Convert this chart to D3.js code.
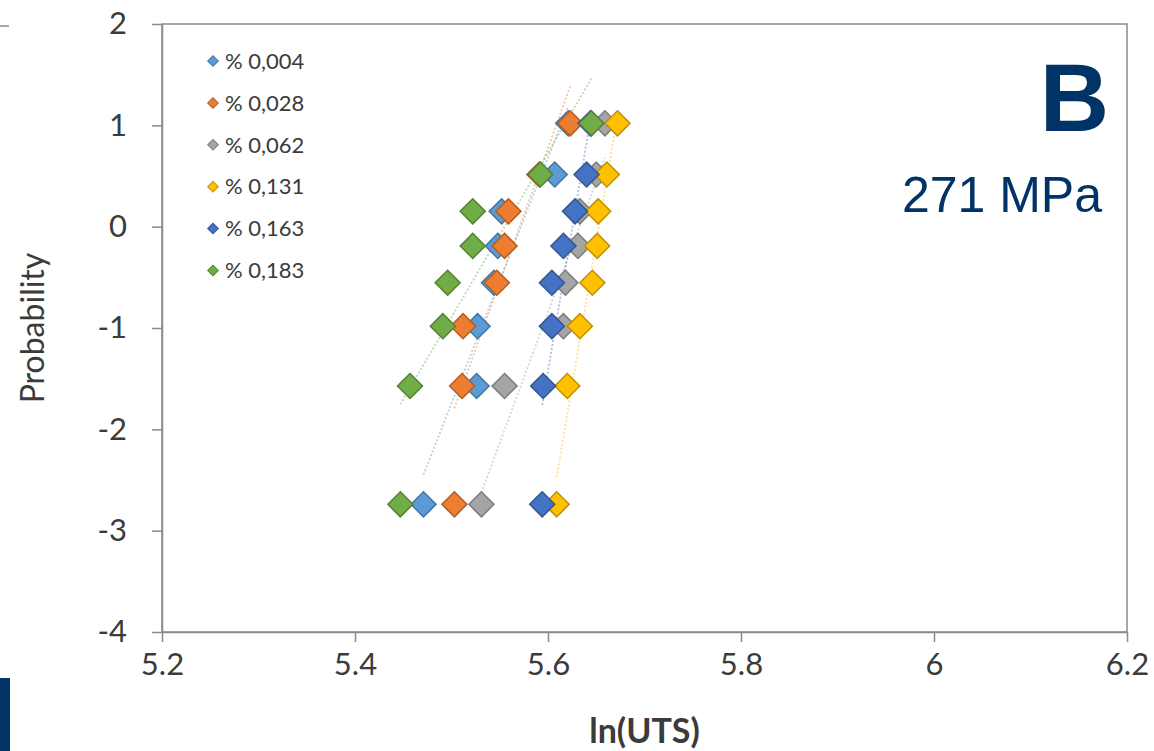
<!DOCTYPE html>
<html>
<head>
<meta charset="utf-8">
<script src="https://cdn.jsdelivr.net/npm/d3@7"></script>
<style>
  html, body { margin: 0; padding: 0; background: #ffffff; }
  svg { display: block; }
</style>
</head>
<body>
<svg id="chart" width="1154" height="751"></svg>
<script>
// ---- data ----
const probability = [-2.740, -1.572, -0.982, -0.553, -0.190, 0.151, 0.515, 1.020];
const seriesNames = ["% 0,004", "% 0,028", "% 0,062", "% 0,131", "% 0,163", "% 0,183"];
const seriesColors = ["#5B9BD5", "#ED7D31", "#A5A5A5", "#FFC000", "#4472C4", "#70AD47"];
const s004 = [5.471, 5.526, 5.527, 5.544, 5.548, 5.552, 5.607, 5.621];
const s028 = [5.503, 5.511, 5.512, 5.547, 5.555, 5.559, 5.591, 5.623];
const s062 = [5.531, 5.555, 5.616, 5.618, 5.631, 5.633, 5.650, 5.659];
const s131 = [5.609, 5.620, 5.633, 5.646, 5.651, 5.652, 5.661, 5.672];
const s163 = [5.594, 5.595, 5.604, 5.604, 5.616, 5.628, 5.640, 5.644];
const s183 = [5.447, 5.457, 5.491, 5.496, 5.522, 5.522, 5.592, 5.645];
const xTicks = [5.2, 5.4, 5.6, 5.8, 6.0, 6.2];
const xTickLabels = ["5.2", "5.4", "5.6", "5.8", "6", "6.2"];
const yTicks = [2, 1, 0, -1, -2, -3, -4];
const yTickLabels = ["2", "1", "0", "-1", "-2", "-3", "-4"];
const xTitle = "ln(UTS)";
const yTitle = "Probability";
const panelLetter = "B";
const panelStress = "271 MPa";

const seriesValues = [s004, s028, s062, s131, s163, s183];
const series = seriesNames.map((name, i) => ({
  name, color: seriesColors[i],
  points: seriesValues[i].map((v, j) => ({ x: v, y: probability[j] }))
}));

// ---- layout ----
const svg = d3.select("#chart");
const pL = 162, pR = 1127, pT = 24, pB = 632;
const x = d3.scaleLinear().domain([5.2, 6.2]).range([pL, pR]);
const y = d3.scaleLinear().domain([-4, 2]).range([pB, pT]);
const axisColor = "#8a8a8a";
const textColor = "#3b3b3b";
const font = "Lato, 'Open Sans', sans-serif";

svg.append("rect").attr("width", 1154).attr("height", 751).attr("fill", "#fff");

// neighbouring-panel fragments
svg.append("line").attr("x1", 0).attr("x2", 9).attr("y1", 26).attr("y2", 26)
  .attr("stroke", "#8a8a8a").attr("stroke-width", 1.5);
svg.append("rect").attr("x", 0).attr("y", 678).attr("width", 10).attr("height", 73)
  .attr("fill", "#003366");

// plot frame
svg.append("rect").attr("x", pL).attr("y", pT).attr("width", pR - pL).attr("height", pB - pT)
  .attr("fill", "none").attr("stroke", axisColor).attr("stroke-width", 1.5);

// axes
const xAxis = svg.append("g").attr("transform", `translate(0,${pB})`)
  .call(d3.axisBottom(x).tickValues(xTicks).tickFormat((d, i) => xTickLabels[i]).tickSize(10).tickSizeOuter(0).tickPadding(11));
const yAxis = svg.append("g").attr("transform", `translate(${pL},0)`)
  .call(d3.axisLeft(y).tickValues(yTicks).tickFormat((d, i) => yTickLabels[i]).tickSize(10).tickSizeOuter(0).tickPadding(25));
[xAxis, yAxis].forEach(g => {
  g.select(".domain").attr("stroke", axisColor).attr("stroke-width", 1.5);
  g.selectAll(".tick line").attr("stroke", axisColor).attr("stroke-width", 1.5);
  g.selectAll(".tick text").attr("fill", textColor).style("font-family", font).style("font-size", "31px");
});

// axis titles
svg.append("text").attr("x", (pL + pR) / 2).attr("y", 743).attr("text-anchor", "middle")
  .style("font-family", font).style("font-size", "34px").style("font-weight", "bold")
  .attr("fill", textColor).text(xTitle);
svg.append("text").attr("transform", `translate(44,${(pT + pB) / 2}) rotate(-90)`)
  .attr("text-anchor", "middle").style("font-family", font).style("font-size", "32px")
  .attr("fill", textColor).text(yTitle);

// trendlines (least squares, across each series' x range)
const trend = svg.append("g");
series.forEach(s => {
  const mx = d3.mean(s.points, p => p.x), my = d3.mean(s.points, p => p.y);
  const sxy = d3.sum(s.points, p => (p.x - mx) * (p.y - my));
  const sxx = d3.sum(s.points, p => (p.x - mx) ** 2);
  const b = sxy / sxx, a = my - b * mx;
  const [x0, x1] = d3.extent(s.points, p => p.x);
  trend.append("line")
    .attr("x1", x(x0)).attr("y1", y(a + b * x0))
    .attr("x2", x(x1)).attr("y2", y(a + b * x1))
    .attr("stroke", s.color).attr("stroke-opacity", 0.45).attr("stroke-width", 1.8)
    .attr("stroke-dasharray", "2,2");
});

// markers
const diamond = d3.symbol().type(d3.symbolSquare).size(17.7 * 17.7);
const marks = svg.append("g");
series.forEach(s => {
  marks.append("g").selectAll("path").data(s.points).join("path")
    .attr("d", diamond)
    .attr("transform", d => `translate(${x(d.x)},${y(d.y)}) rotate(45)`)
    .attr("fill", s.color)
    .attr("stroke", d3.color(s.color).darker(0.8))
    .attr("stroke-width", 1.5);
});

// legend
const legendSymbol = d3.symbol().type(d3.symbolSquare).size(7.5 * 7.5);
const legend = svg.append("g");
series.forEach((s, i) => {
  const ly = 61 + i * 41.9;
  legend.append("path").attr("d", legendSymbol)
    .attr("transform", `translate(213,${ly}) rotate(45)`)
    .attr("fill", s.color).attr("stroke", d3.color(s.color).darker(0.8)).attr("stroke-width", 1);
  legend.append("text").attr("x", 225).attr("y", ly).attr("dy", "0.35em")
    .style("font-family", font).style("font-size", "22px").attr("fill", textColor).text(s.name);
});

// panel annotation
svg.append("text").attr("x", 1109).attr("y", 131).attr("text-anchor", "end")
  .style("font-family", "'Liberation Sans', Arial, sans-serif").style("font-size", "96px").style("font-weight", "bold")
  .attr("fill", "#003366").text(panelLetter);
svg.append("text").attr("x", 1102).attr("y", 212).attr("text-anchor", "end")
  .style("font-family", "'Liberation Sans', Arial, sans-serif").style("font-size", "50px")
  .attr("fill", "#003366").text(panelStress);
</script>
</body>
</html>
